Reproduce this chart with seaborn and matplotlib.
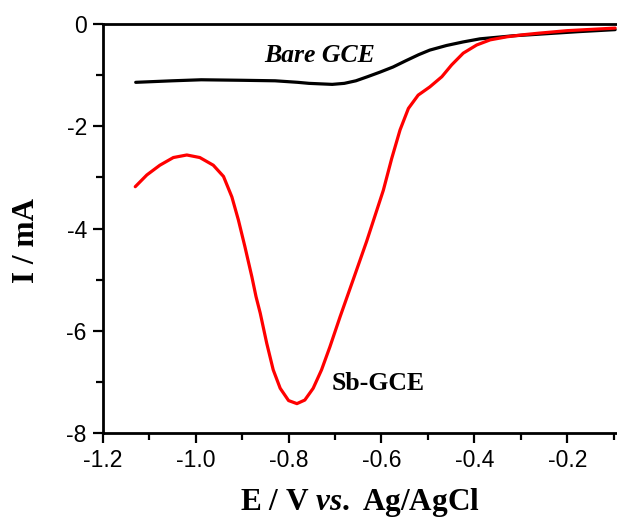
import matplotlib
matplotlib.use("Agg")
import matplotlib.pyplot as plt
import seaborn as sns
import pandas as pd
from matplotlib.ticker import MultipleLocator

# Data
bare_E = [-1.129, -1.05, -0.988, -0.90, -0.829, -0.78, -0.756, -0.706, -0.68, -0.655,
          -0.63, -0.603, -0.575, -0.548, -0.520, -0.496, -0.460, -0.424, -0.388, -0.352,
          -0.316, -0.280, -0.177, -0.097]
bare_I = [-1.14, -1.11, -1.09, -1.10, -1.11, -1.14, -1.16, -1.18, -1.16, -1.11,
          -1.03, -0.94, -0.84, -0.72, -0.60, -0.51, -0.42, -0.35, -0.29, -0.26,
          -0.23, -0.21, -0.15, -0.11]

sb_E = [-1.130, -1.105, -1.077, -1.048, -1.019, -0.991, -0.962, -0.940, -0.922, -0.908,
        -0.894, -0.879, -0.870, -0.861, -0.847, -0.833, -0.818, -0.800, -0.782, -0.765,
        -0.747, -0.729, -0.711, -0.689, -0.661, -0.632, -0.596, -0.578, -0.560, -0.542,
        -0.521, -0.496, -0.470, -0.449, -0.424, -0.395, -0.366, -0.330, -0.295, -0.262,
        -0.200, -0.097]
sb_I = [-3.18, -2.95, -2.76, -2.61, -2.56, -2.61, -2.76, -2.98, -3.38, -3.83,
        -4.35, -4.94, -5.33, -5.65, -6.24, -6.76, -7.12, -7.36, -7.42, -7.35,
        -7.12, -6.76, -6.31, -5.72, -5.00, -4.25, -3.25, -2.63, -2.07, -1.65,
        -1.39, -1.23, -1.03, -0.80, -0.57, -0.41, -0.31, -0.25, -0.21, -0.18,
        -0.13, -0.08]

x_ticks = [-1.2, -1.0, -0.8, -0.6, -0.4, -0.2]
y_ticks = [0, -2, -4, -6, -8]

sns.set_style("ticks")
plt.rcParams['font.family'] = ['Liberation Sans', 'DejaVu Sans']
plt.rcParams['mathtext.fontset'] = 'custom'
plt.rcParams['mathtext.it'] = 'Liberation Serif:italic:bold'
plt.rcParams['mathtext.bf'] = 'Liberation Serif:bold'
plt.rcParams['mathtext.rm'] = 'Liberation Serif:bold'
for k in ['text.color', 'axes.labelcolor', 'xtick.color', 'ytick.color', 'axes.edgecolor']:
    plt.rcParams[k] = 'black'

fig = plt.figure(figsize=(6.17, 5.23), dpi=100)
ax = fig.add_axes([0.1665, 0.1715, 0.8335, 0.7826])

df_bare = pd.DataFrame({"E": bare_E, "I": bare_I})
df_sb = pd.DataFrame({"E": sb_E, "I": sb_I})
sns.lineplot(data=df_bare, x="E", y="I", ax=ax, color="black", linewidth=2.3,
             estimator=None, sort=False)
sns.lineplot(data=df_sb, x="E", y="I", ax=ax, color="#ff0000", linewidth=2.3,
             estimator=None, sort=False)

ax.set_xlim(-1.2, -0.093)
ax.set_ylim(-8, 0)
ax.set_xticks(x_ticks)
ax.set_xticklabels([f"{v:.1f}" for v in x_ticks])
ax.set_yticks(y_ticks)
ax.set_yticklabels([f"{v:d}" for v in y_ticks])
ax.xaxis.set_minor_locator(MultipleLocator(0.1))
ax.yaxis.set_minor_locator(MultipleLocator(1))
ax.tick_params(which='major', direction='out', length=7.5, width=1.6,
               labelsize=16.5, pad=4, colors='black')
ax.tick_params(which='minor', direction='out', length=5, width=1.6)
ax.tick_params(top=False, right=False, which='both')

for side in ['left', 'bottom', 'top']:
    ax.spines[side].set_linewidth(2.0)
    ax.spines[side].set_color('black')
ax.spines['right'].set_visible(False)

serif = ['Liberation Serif', 'DejaVu Serif']
ax.set_ylabel("I / mA", fontsize=22.5, fontweight='bold', family=serif)
ax.set_xlabel(r"E / V $\mathit{vs.}$ Ag/AgCl", fontsize=22.5, fontweight='bold',
              family=serif)
ax.yaxis.set_label_coords(-0.12, 0.472)
ax.xaxis.set_label_coords(0.5, -0.128)

ax.text(-0.734, -0.62, "Bare GCE", fontsize=18.5, fontweight='bold', style='italic',
        family=serif, ha='center', va='center')
ax.text(-0.607, -7.03, "Sb-GCE", fontsize=18.5, fontweight='bold',
        family=serif, ha='center', va='center')

fig.savefig("out.png", dpi=100)
